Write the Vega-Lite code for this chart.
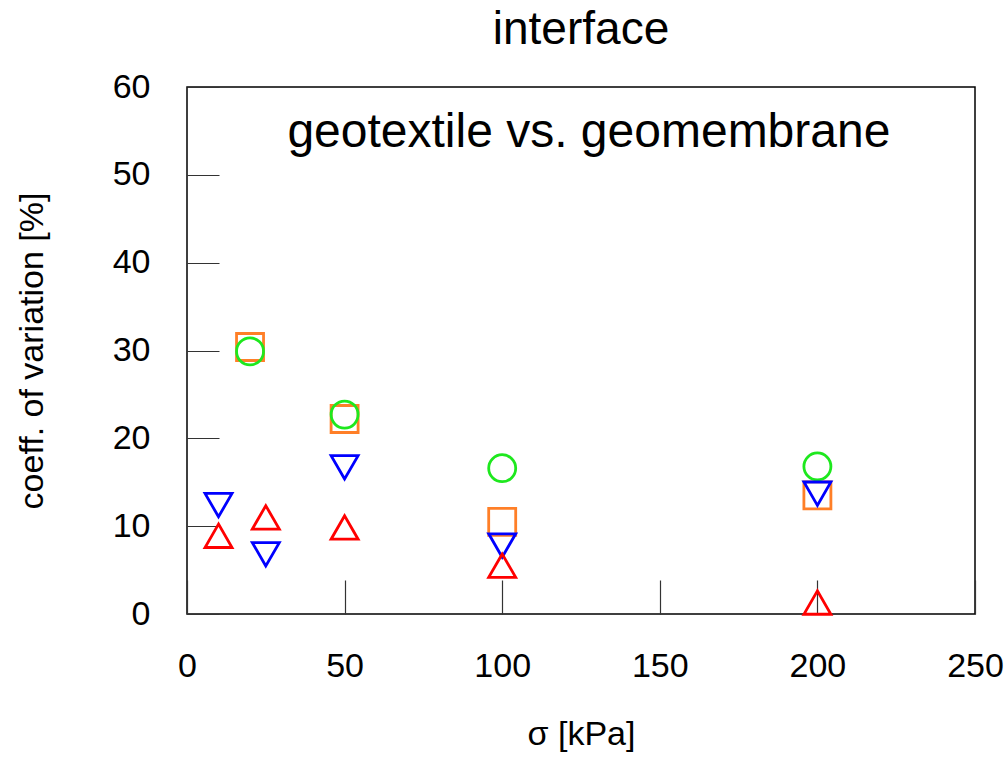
{
  "$schema": "https://vega.github.io/schema/vega-lite/v6.json",
  "autosize": {"type": "none"},
  "padding": {"left": 187, "top": 87, "right": 32, "bottom": 143},
  "width": 788,
  "height": 527,
  "background": "white",
  "title": {"text": "interface", "fontSize": 46, "font": "Liberation Sans", "fontWeight": "normal", "color": "black", "anchor": "middle", "offset": 16},
  "config": {
    "view": {"stroke": "black", "strokeWidth": 1.5},
    "font": "Liberation Sans",
    "axis": {"grid": false, "domain": false, "labelFont": "Liberation Sans", "titleFont": "Liberation Sans", "labelColor": "black", "titleColor": "black", "titleFontWeight": "normal", "tickColor": "#333333", "tickWidth": 1.2, "labelFlush": false}
  },
  "layer": [
    {
      "data": {"values": [
        {"series": "square", "sigma": 20, "cv": 30.4},
        {"series": "square", "sigma": 50, "cv": 22.2},
        {"series": "square", "sigma": 100, "cv": 10.5},
        {"series": "square", "sigma": 200, "cv": 13.5},
        {"series": "circle", "sigma": 20, "cv": 29.9},
        {"series": "circle", "sigma": 50, "cv": 22.7},
        {"series": "circle", "sigma": 100, "cv": 16.6},
        {"series": "circle", "sigma": 200, "cv": 16.8},
        {"series": "triangle-down", "sigma": 10, "cv": 12.4},
        {"series": "triangle-down", "sigma": 25, "cv": 6.8},
        {"series": "triangle-down", "sigma": 50, "cv": 16.7},
        {"series": "triangle-down", "sigma": 100, "cv": 7.8},
        {"series": "triangle-down", "sigma": 200, "cv": 13.7},
        {"series": "triangle-up", "sigma": 10, "cv": 8.9},
        {"series": "triangle-up", "sigma": 25, "cv": 11.0},
        {"series": "triangle-up", "sigma": 50, "cv": 9.85},
        {"series": "triangle-up", "sigma": 100, "cv": 5.5},
        {"series": "triangle-up", "sigma": 200, "cv": 1.3}
      ]},
      "mark": {"type": "point", "filled": false, "size": 729, "strokeWidth": 2.8, "opacity": 1},
      "encoding": {
        "x": {"field": "sigma", "type": "quantitative", "scale": {"domain": [0, 250], "nice": false},
          "axis": {"values": [0, 50, 100, 150, 200, 250], "tickSize": -34, "labelFontSize": 34, "labelPadding": 69, "title": "σ [kPa]", "titleFontSize": 34, "titlePadding": 34}},
        "y": {"field": "cv", "type": "quantitative", "scale": {"domain": [0, 60], "nice": false},
          "axis": {"values": [0, 10, 20, 30, 40, 50, 60], "tickSize": -32, "labelFontSize": 34, "labelPadding": 69, "title": "coeff. of variation [%]", "titleFontSize": 34, "titlePadding": 63}},
        "shape": {"field": "series", "type": "nominal", "scale": {"domain": ["circle", "square", "triangle-down", "triangle-up"], "range": ["circle", "square", "triangle-down", "triangle-up"]}, "legend": null},
        "color": {"field": "series", "type": "nominal", "scale": {"domain": ["circle", "square", "triangle-down", "triangle-up"], "range": ["#1EE81E", "#FF7F27", "#0000FF", "#FF0000"]}, "legend": null}
      }
    },
    {
      "data": {"values": [{"label": "geotextile vs. geomembrane"}]},
      "mark": {"type": "text", "fontSize": 48, "font": "Liberation Sans", "color": "black", "align": "center", "baseline": "alphabetic"},
      "encoding": {
        "text": {"field": "label"},
        "x": {"datum": 127.5, "type": "quantitative"},
        "y": {"datum": 53.2, "type": "quantitative"}
      }
    }
  ]
}
